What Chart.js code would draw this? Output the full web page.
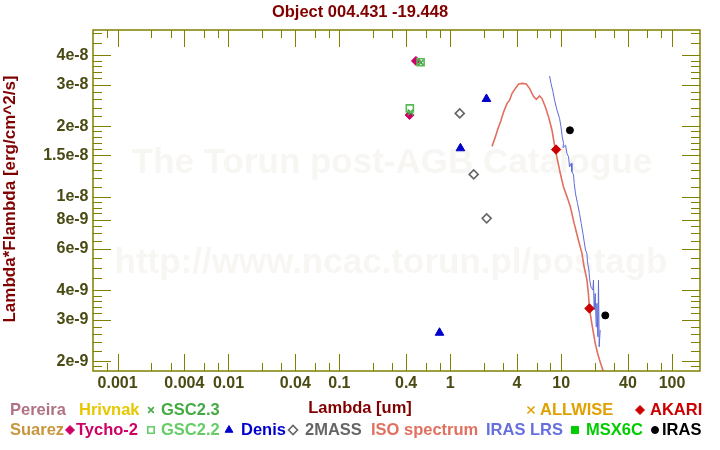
<!DOCTYPE html>
<html>
<head>
<meta charset="utf-8">
<script src="https://cdn.jsdelivr.net/npm/chart.js@4.4.1/dist/chart.umd.min.js"></script>
<style>
  html, body { margin: 0; padding: 0; background: #fff; }
  #sed { display: block; }
</style>
</head>
<body>
<canvas id="sed" width="720" height="450"></canvas>
<script>
// photometry, lambda in um, lambda*F_lambda in erg/cm^2/s
const tychoLambda = [0.43, 0.49];
const tychoFlux = [2.23e-8, 3.79e-8];
const gsc23Lambda = [0.438, 0.543];
const gsc23Flux = [2.29e-8, 3.73e-8];
const gsc22Lambda = [0.432, 0.54];
const gsc22Flux = [2.38e-8, 3.74e-8];
const denisLambda = [0.80, 1.235, 2.12];
const denisFlux = [2.64e-9, 1.61e-8, 2.61e-8];
const twomassLambda = [1.218, 1.627, 2.13];
const twomassFlux = [2.265e-8, 1.246e-8, 8.1e-9];
const akariLambda = [9, 18];
const akariFlux = [1.59e-8, 3.35e-9];
const irasLambda = [12, 25];
const irasFlux = [1.92e-8, 3.13e-9];

// spectra
const isoLambda = [2.38, 2.55, 2.68, 2.87, 3.03, 3.25, 3.43, 3.61, 3.86, 4.14, 4.44, 4.85, 5.20, 5.64,
  5.97, 6.39, 6.72, 7.19, 7.70, 8.27, 8.85, 9.28, 9.82, 10.5, 11.3, 12.1, 12.5, 13.1, 14.3, 15.4,
  16.1, 17.1, 17.6, 18.0, 18.9, 19.6, 20.3, 21.3, 22.2, 23.0, 23.8, 24.4];
const isoFlux = [1.64e-8, 1.80e-8, 1.94e-8, 2.12e-8, 2.30e-8, 2.50e-8, 2.58e-8, 2.76e-8, 2.89e-8, 3.02e-8,
  3.04e-8, 3.02e-8, 2.89e-8, 2.67e-8, 2.60e-8, 2.69e-8, 2.62e-8, 2.42e-8, 2.19e-8, 1.92e-8, 1.59e-8,
  1.43e-8, 1.26e-8, 1.10e-8, 1.00e-8, 9.07e-9, 8.5e-9, 7.71e-9, 6.55e-9, 5.75e-9, 5.04e-9, 4.42e-9,
  3.88e-9, 3.35e-9, 2.89e-9, 2.62e-9, 2.38e-9, 2.16e-9, 2.02e-9, 1.92e-9, 1.83e-9, 1.69e-9];
const lrsLambda = [7.86, 8.10, 8.44, 8.72, 9.17, 9.67, 9.96, 10.23, 10.51, 10.38, 10.96, 11.28, 11.66,
  11.90, 12.33, 12.51, 12.93, 13.12, 13.48, 14.05, 14.64, 15.17, 15.71, 16.14, 16.58, 17.07, 17.28,
  17.79, 18.01, 18.54, 19.33, 19.56, 19.85, 20.27, 20.70, 21.00, 21.44, 21.71, 22.03, 22.49];
const lrsFlux = [3.27e-8, 3.04e-8, 2.80e-8, 2.58e-8, 2.34e-8, 2.16e-8, 1.99e-8, 1.80e-8, 1.69e-8, 1.62e-8,
  1.66e-8, 1.53e-8, 1.48e-8, 1.34e-8, 1.39e-8, 1.28e-8, 1.24e-8, 1.14e-8, 1.03e-8, 9.38e-9, 8.50e-9,
  7.71e-9, 6.99e-9, 6.44e-9, 5.93e-9, 5.75e-9, 5.29e-9, 4.88e-9, 4.50e-9, 4.14e-9, 4.01e-9, 4.42e-9,
  3.30e-9, 3.88e-9, 2.80e-9, 3.52e-9, 2.54e-9, 4.42e-9, 2.30e-9, 2.71e-9];

// axes
const xMin = 6.14e-4, xMax = 178.7;
const yMin = 1.815e-9, yMax = 5.13e-8;
const xTickValues = [0.001, 0.004, 0.01, 0.04, 0.1, 0.4, 1, 4, 10, 40, 100];
const xTickLabels = ['0.001', '0.004', '0.01', '0.04', '0.1', '0.4', '1', '4', '10', '40', '100'];
const xMinorTicks = [0.0008, 0.002, 0.003, 0.006, 0.008, 0.02, 0.03, 0.06, 0.08, 0.2, 0.3, 0.6, 0.8,
  2, 3, 6, 8, 20, 30, 60, 80];
const yTickValues = [2e-9, 3e-9, 4e-9, 6e-9, 8e-9, 1e-8, 1.5e-8, 2e-8, 3e-8, 4e-8];
const yTickLabels = ['2e-9', '3e-9', '4e-9', '6e-9', '8e-9', '1e-8', '1.5e-8', '2e-8', '3e-8', '4e-8'];
const yMinorTicks = [1.9e-9, 2.2e-9, 2.4e-9, 2.6e-9, 2.8e-9, 3.2e-9, 3.4e-9, 3.6e-9, 3.8e-9, 4.5e-9, 5e-9,
  5.5e-9, 6.5e-9, 7e-9, 7.5e-9, 8.5e-9, 9e-9, 9.5e-9, 1.1e-8, 1.2e-8, 1.3e-8, 1.4e-8, 1.6e-8, 1.7e-8,
  1.8e-8, 1.9e-8, 2.2e-8, 2.4e-8, 2.6e-8, 2.8e-8, 3.2e-8, 3.4e-8, 3.6e-8, 3.8e-8, 4.5e-8, 5e-8];

const FONT = "'Liberation Sans', Arial, sans-serif";
const OLIVE = '#808000';
const TICKTEXT = '#4a4a14';
const DARKRED = '#800000';

const pts = (xs, ys) => xs.map((x, i) => ({ x: x, y: ys[i] }));

function marker(label, xs, ys, style, color, radius, filled) {
  return {
    label: label,
    data: pts(xs, ys),
    showLine: false,
    pointStyle: style,
    pointRadius: radius,
    pointHoverRadius: radius,
    pointBorderColor: color,
    pointBackgroundColor: filled ? color : 'rgba(0,0,0,0)',
    pointBorderWidth: filled ? 1 : 1.6
  };
}

function spectrum(label, xs, ys, color, width) {
  return {
    label: label,
    data: pts(xs, ys),
    showLine: true,
    borderColor: color,
    borderWidth: width,
    pointRadius: 0,
    tension: 0
  };
}

// faint catalogue watermark behind the data
const watermark = {
  id: 'watermark',
  beforeDatasetsDraw(chart) {
    const ctx = chart.ctx;
    ctx.save();
    ctx.fillStyle = 'rgba(200,185,160,0.12)';
    ctx.font = 'bold 35px ' + FONT;
    ctx.textAlign = 'center';
    ctx.textBaseline = 'middle';
    ctx.fillText('The Torun post-AGB Catalogue', 392, 163);
    ctx.fillText('http://www.ncac.torun.pl/postagb', 391, 263);
    ctx.restore();
  }
};

// box with inward ticks on all four sides
const frameTicks = {
  id: 'frameTicks',
  afterDatasetsDraw(chart) {
    const { ctx, chartArea: a, scales: { x, y } } = chart;
    const snap = v => Math.round(v) + 0.5;
    ctx.save();
    ctx.strokeStyle = OLIVE;
    ctx.lineWidth = 1;
    ctx.beginPath();
    const tickX = (v, len) => {
      const px = snap(x.getPixelForValue(v));
      ctx.moveTo(px, a.bottom); ctx.lineTo(px, a.bottom - len);
      ctx.moveTo(px, a.top); ctx.lineTo(px, a.top + len);
    };
    const tickY = (v, len) => {
      const py = snap(y.getPixelForValue(v));
      ctx.moveTo(a.left, py); ctx.lineTo(a.left + len, py);
      ctx.moveTo(a.right, py); ctx.lineTo(a.right - len, py);
    };
    xTickValues.forEach(v => tickX(v, 17));
    xMinorTicks.forEach(v => tickX(v, 8));
    yTickValues.forEach(v => tickY(v, 18));
    yMinorTicks.forEach(v => tickY(v, 9));
    ctx.stroke();
    ctx.lineWidth = 1.5;
    ctx.strokeRect(a.left, a.top, a.right - a.left, a.bottom - a.top);
    ctx.restore();
  }
};

// title, axis titles and the two-row legend
const legendItems = [
  { text: 'Pereira', x: 10, row: 0, color: '#b07282' },
  { text: 'Hrivnak', x: 79, row: 0, color: '#e6c800' },
  { text: 'GSC2.3', x: 161, row: 0, color: '#44aa44', style: 'crossRot', mx: 151, r: 4, fill: false },
  { text: 'ALLWISE', x: 540, row: 0, color: '#e0a000', style: 'crossRot', mx: 531, r: 5, fill: false },
  { text: 'AKARI', x: 650, row: 0, color: '#cc0000', style: 'rectRot', mx: 640, r: 4.5, fill: true },
  { text: 'Suarez', x: 10, row: 1, color: '#c8963c' },
  { text: 'Tycho-2', x: 76, row: 1, color: '#cc0066', style: 'rectRot', mx: 70, r: 4.5, fill: true },
  { text: 'GSC2.2', x: 161, row: 1, color: '#66cc66', style: 'rect', mx: 151, r: 4.5, fill: false },
  { text: 'Denis', x: 241, row: 1, color: '#0000cc', style: 'triangle', mx: 229, r: 4.5, fill: true },
  { text: '2MASS', x: 305, row: 1, color: '#666666', style: 'rectRot', mx: 293, r: 4.5, fill: false },
  { text: 'ISO spectrum', x: 371, row: 1, color: '#e07060' },
  { text: 'IRAS LRS', x: 486, row: 1, color: '#6670dd' },
  { text: 'MSX6C', x: 586, row: 1, color: '#00cc00', style: 'rect', mx: 575, r: 5, fill: true },
  { text: 'IRAS', x: 662, row: 1, color: '#000000', style: 'circle', mx: 655, r: 3.5, fill: true }
];

const labels = {
  id: 'labels',
  afterDraw(chart) {
    const ctx = chart.ctx;
    ctx.save();
    ctx.font = 'bold 16.5px ' + FONT;
    ctx.fillStyle = DARKRED;
    ctx.textAlign = 'center';
    ctx.textBaseline = 'middle';
    ctx.fillText('Object 004.431 -19.448', 360, 12);
    ctx.fillText('Lambda [um]', 360, 408);
    ctx.save();
    ctx.font = 'bold 17px ' + FONT;
    ctx.translate(10, 199);
    ctx.rotate(-Math.PI / 2);
    ctx.fillText('Lambda*Flambda [erg/cm^2/s]', 0, 0);
    ctx.restore();

    ctx.textAlign = 'left';
    legendItems.forEach(it => {
      const yy = it.row === 0 ? 410 : 430;
      if (it.style) {
        ctx.strokeStyle = it.color;
        ctx.fillStyle = it.fill ? it.color : 'rgba(0,0,0,0)';
        ctx.lineWidth = it.fill ? 1 : 1.6;
        Chart.helpers.drawPoint(ctx, { pointStyle: it.style, radius: it.r, borderWidth: ctx.lineWidth }, it.mx, yy);
      }
      ctx.fillStyle = it.color;
      ctx.fillText(it.text, it.x, yy);
    });
    ctx.restore();
  }
};

new Chart(document.getElementById('sed'), {
  type: 'scatter',
  data: {
    datasets: [
      marker('IRAS', irasLambda, irasFlux, 'circle', '#000000', 3.5, true),
      marker('AKARI', akariLambda, akariFlux, 'rectRot', '#cc0000', 4.7, true),
      marker('2MASS', twomassLambda, twomassFlux, 'rectRot', '#666666', 4.5, false),
      marker('Denis', denisLambda, denisFlux, 'triangle', '#0000cc', 5, true),
      marker('GSC2.2', gsc22Lambda, gsc22Flux, 'rect', '#55bb55', 5, false),
      marker('GSC2.3', gsc23Lambda, gsc23Flux, 'crossRot', '#44aa44', 4, false),
      marker('Tycho-2', tychoLambda, tychoFlux, 'rectRot', '#cc0066', 4.5, true),
      spectrum('IRAS LRS', lrsLambda, lrsFlux, '#5c6bd6', 1),
      spectrum('ISO spectrum', isoLambda, isoFlux, '#e07060', 1.6)
    ]
  },
  options: {
    responsive: false,
    animation: false,
    events: [],
    layout: { padding: { left: 0, right: 20, top: 30, bottom: 0 } },
    plugins: { legend: { display: false }, title: { display: false }, tooltip: { enabled: false } },
    scales: {
      x: {
        type: 'logarithmic',
        position: 'bottom',
        min: xMin,
        max: xMax,
        grid: { display: false, drawTicks: false },
        border: { display: false },
        ticks: {
          autoSkip: false,
          maxRotation: 0,
          padding: 3,
          color: TICKTEXT,
          font: { family: FONT, size: 16, weight: 'bold' },
          callback: (v, i) => xTickLabels[i]
        },
        afterBuildTicks: s => { s.ticks = xTickValues.map(v => ({ value: v })); },
        afterFit: s => { s.height = 79; }
      },
      y: {
        type: 'logarithmic',
        position: 'left',
        min: yMin,
        max: yMax,
        grid: { display: false, drawTicks: false },
        border: { display: false },
        ticks: {
          autoSkip: false,
          padding: 4.5,
          color: TICKTEXT,
          font: { family: FONT, size: 16, weight: 'bold' },
          callback: (v, i) => yTickLabels[i]
        },
        afterBuildTicks: s => { s.ticks = yTickValues.map(v => ({ value: v })); },
        afterFit: s => { s.width = 93; }
      }
    }
  },
  plugins: [watermark, frameTicks, labels]
});
</script>
</body>
</html>
